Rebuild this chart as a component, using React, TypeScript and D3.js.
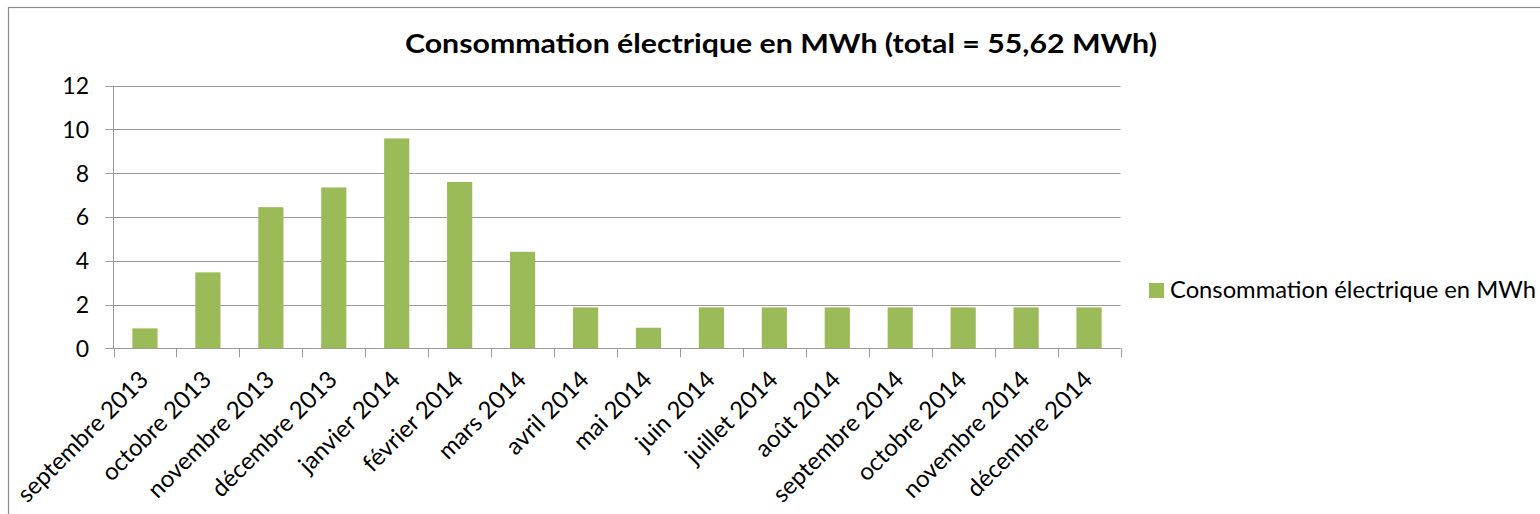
import { useEffect, useRef } from 'react'
import * as d3 from 'd3'

const months = [
  'septembre 2013', 'octobre 2013', 'novembre 2013', 'décembre 2013',
  'janvier 2014', 'février 2014', 'mars 2014', 'avril 2014', 'mai 2014',
  'juin 2014', 'juillet 2014', 'août 2014', 'septembre 2014',
  'octobre 2014', 'novembre 2014', 'décembre 2014',
]
const consumption = [0.91, 3.47, 6.45, 7.35, 9.59, 7.6, 4.41, 1.87, 0.94, 1.87, 1.87, 1.87, 1.87, 1.87, 1.87, 1.87]
const yTicks = [0, 2, 4, 6, 8, 10, 12]
const seriesName = 'Consommation électrique en MWh'
const title = 'Consommation électrique en MWh (total = 55,62 MWh)'

const FONT = 'Lato, "Open Sans", sans-serif'
const GREEN = '#9bbb59'
const GRID = '#9a9a9a'

export default function App() {
  const svgRef = useRef<SVGSVGElement>(null)

  useEffect(() => {
    if (!svgRef.current) return
    const W = 1540
    const H = 514
    const svg = d3.select(svgRef.current)
    svg.selectAll('*').remove()
    svg.attr('width', W).attr('height', H)

    // chart border (runs off the right/bottom edge)
    svg.append('rect')
      .attr('x', 8.5).attr('y', 7.5)
      .attr('width', 1560).attr('height', 540)
      .attr('fill', 'white').attr('stroke', '#8c8c8c').attr('stroke-width', 1.2)

    const left = 113.5
    const right = 1120.5
    const top = 85.7
    const bottom = 348.3

    const x = d3.scaleBand().domain(months).range([left, right]).paddingInner(0.6).paddingOuter(0.3)
    const band = d3.scaleBand().domain(months).range([left, right])
    const y = d3.scaleLinear().domain([0, 12]).range([bottom, top])

    const g = svg.append('g')

    // gridlines
    g.selectAll('.grid')
      .data(yTicks)
      .enter()
      .append('line')
      .attr('x1', left - 8).attr('x2', right)
      .attr('y1', (d) => Math.round(y(d)) + 0.5).attr('y2', (d) => Math.round(y(d)) + 0.5)
      .attr('stroke', GRID).attr('stroke-width', 1)

    // y axis line
    g.append('line')
      .attr('x1', left).attr('x2', left).attr('y1', top).attr('y2', bottom)
      .attr('stroke', GRID)

    // y tick labels
    g.selectAll('.ylab')
      .data(yTicks)
      .enter()
      .append('text')
      .attr('x', 89).attr('y', (d) => y(d))
      .attr('dy', '0.36em')
      .attr('text-anchor', 'end')
      .attr('font-family', FONT).attr('font-size', 23)
      .attr('fill', '#000')
      .text((d) => d)

    // x ticks at band boundaries
    const boundaries = months.map((m) => band(m) as number).concat([right])
    g.selectAll('.xtick')
      .data(boundaries)
      .enter()
      .append('line')
      .attr('x1', (d) => Math.round(d) + 0.5).attr('x2', (d) => Math.round(d) + 0.5)
      .attr('y1', bottom).attr('y2', bottom + 9)
      .attr('stroke', GRID)

    // bars
    g.selectAll('.bar')
      .data(consumption)
      .enter()
      .append('rect')
      .attr('x', (d, i) => x(months[i]) as number)
      .attr('y', (d) => y(d))
      .attr('width', x.bandwidth())
      .attr('height', (d) => bottom - y(d))
      .attr('fill', GREEN)

    // x labels rotated
    g.selectAll('.xlab')
      .data(months)
      .enter()
      .append('text')
      .attr('transform', (d) => {
        const cx = (band(d) as number) + band.bandwidth() / 2
        return `translate(${cx - 7},${bottom + 21}) rotate(-45)`
      })
      .attr('text-anchor', 'end')
      .attr('dy', '0.7em')
      .attr('font-family', FONT).attr('font-size', 24)
      .attr('fill', '#000')
      .text((d) => d)

    // title
    svg.append('text')
      .attr('x', 781).attr('y', 53)
      .attr('text-anchor', 'middle')
      .attr('font-family', FONT).attr('font-size', 27).attr('font-weight', 'bold')
      .attr('textLength', 752).attr('lengthAdjust', 'spacingAndGlyphs')
      .text(title)

    // legend
    const lg = svg.append('g').attr('transform', 'translate(1149,283)')
    lg.append('rect').attr('width', 15).attr('height', 15).attr('fill', GREEN)
    lg.append('text')
      .attr('x', 21).attr('y', 15)
      .attr('font-family', FONT).attr('font-size', 23)
      .attr('textLength', 366).attr('lengthAdjust', 'spacingAndGlyphs')
      .text(seriesName)
  }, [])

  return (
    <div style={{ position: 'absolute', left: 0, top: 0 }}>
      <svg ref={svgRef} style={{ display: 'block' }}></svg>
    </div>
  )
}
